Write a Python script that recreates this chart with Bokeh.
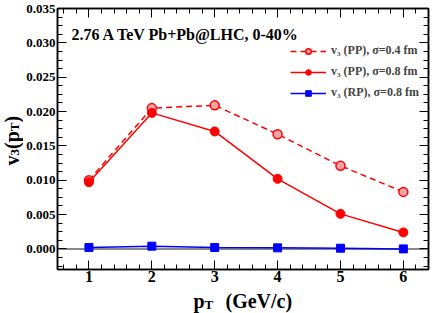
import math
from bokeh.plotting import figure
from bokeh.models import (Range1d, SingleIntervalTicker, LinearAxis, NumeralTickFormatter,
                          Span, Label, Legend, LegendItem)
from bokeh.layouts import column, row
from bokeh.embed import file_html
from bokeh.resources import INLINE

# ---- data ----
pt = [1, 2, 3, 4, 5, 6]
v3_pp_04 = [0.0100, 0.0205, 0.0209, 0.0167, 0.0121, 0.0083]
v3_pp_08 = [0.0097, 0.0198, 0.0171, 0.0102, 0.0051, 0.0024]
v3_rp_08 = [0.0002, 0.0004, 0.0002, 0.00015, 0.0001, 0.0000]
labels = ["v\u2083 (PP), \u03c3=0.4 fm", "v\u2083 (PP), \u03c3=0.8 fm", "v\u2083 (RP), \u03c3=0.8 fm"]
title_text = "2.76 A TeV Pb+Pb@LHC, 0-40%"

# ---- layout (page pixels; page origin at top-left) ----
PW, PH = 436, 313
YLAB_W = 23
XLAB_H = 24
FL, FR, FT, FB = 55, 428, 8, 269
X0, X1 = 0.5, 6.4
Y0, Y1 = -0.003, 0.035
FONT = "Liberation Serif"
BL = 7  # correction for alphabetic baseline placement in the label panels

MW, MH = PW - YLAB_W, PH - XLAB_H

def dx(px):
    return X0 + (px - FL) * (X1 - X0) / (FR - FL)

def dy(py):
    return Y1 - (py - FT) * (Y1 - Y0) / (FB - FT)

p = figure(width=MW, height=MH, output_backend="svg", toolbar_location=None,
           x_range=Range1d(X0, X1), y_range=Range1d(Y0, Y1),
           min_border_left=FL - YLAB_W, min_border_right=PW - FR,
           min_border_top=FT, min_border_bottom=MH - FB,
           x_axis_location=None, y_axis_location=None)
p.grid.visible = False
p.outline_line_color = "black"
p.outline_line_width = 1.5
p.background_fill_color = "white"
p.border_fill_color = "white"

xt = SingleIntervalTicker(interval=1, num_minor_ticks=5)
yt = SingleIntervalTicker(interval=0.005, num_minor_ticks=4)

def style_axis(ax, show_labels, size):
    ax.axis_line_color = "black"
    ax.axis_line_width = 1.5
    ax.major_tick_in = 9
    ax.major_tick_out = 0
    ax.minor_tick_in = 5
    ax.minor_tick_out = 0
    ax.major_tick_line_color = "black"
    ax.minor_tick_line_color = "black"
    ax.major_tick_line_width = 1
    ax.minor_tick_line_width = 1
    if show_labels:
        ax.major_label_text_font = FONT
        ax.major_label_text_font_style = "bold"
        ax.major_label_text_font_size = size
        ax.major_label_text_color = "black"
    else:
        ax.major_label_text_font_size = "0px"
        ax.major_label_text_color = None
        ax.major_label_standoff = 0

bx = LinearAxis(ticker=xt)
style_axis(bx, True, "16px")
bx.major_label_standoff = 1
p.add_layout(bx, "below")
ly = LinearAxis(ticker=yt, formatter=NumeralTickFormatter(format="0.000"))
style_axis(ly, True, "13px")
ly.major_label_standoff = 2
p.add_layout(ly, "left")
tx = LinearAxis(ticker=xt)
style_axis(tx, False, None)
p.add_layout(tx, "above")
ry = LinearAxis(ticker=yt)
style_axis(ry, False, None)
p.add_layout(ry, "right")

p.add_layout(Span(location=0, dimension="width", line_color="#888888", line_width=2, level="underlay"))

RED = "#ff0000"
BLUE = "#0000ff"
l1 = p.line(pt, v3_pp_04, line_color=RED, line_width=1.5, line_dash="6 4")
s1 = p.scatter(pt, v3_pp_04, marker="circle", size=9, fill_color="#f4a3a6", line_color=RED, line_width=1.5)
l2 = p.line(pt, v3_pp_08, line_color=RED, line_width=1.5)
s2 = p.scatter(pt, v3_pp_08, marker="circle", size=9, fill_color=RED, line_color=RED)
l3 = p.line(pt, v3_rp_08, line_color=BLUE, line_width=1.5)
s3 = p.scatter(pt, v3_rp_08, marker="square", size=8, fill_color=BLUE, line_color=BLUE)

legend = Legend(items=[LegendItem(label=labels[0], renderers=[l1, s1]),
                       LegendItem(label=labels[1], renderers=[l2, s2]),
                       LegendItem(label=labels[2], renderers=[l3, s3])],
                location=(288 - FL, FB - 100), padding=0, margin=0, spacing=6,
                glyph_width=36, glyph_height=14, label_height=14, label_standoff=5,
                label_text_font=FONT, label_text_font_style="bold", label_text_font_size="12px",
                border_line_color=None, background_fill_alpha=0)
p.add_layout(legend)

p.add_layout(Label(x=dx(69), y=dy(34), text=title_text, text_font=FONT, text_font_style="bold",
                   text_font_size="16px", text_color="black", text_baseline="alphabetic",
                   text_align="left"))

def label_fig(w, h, xr, yr):
    f = figure(width=w, height=h, output_backend="svg", toolbar_location=None,
               x_range=xr, y_range=yr, min_border=0,
               x_axis_location=None, y_axis_location=None)
    f.grid.visible = False
    f.outline_line_color = None
    f.background_fill_color = "white"
    f.border_fill_color = "white"
    return f

# y axis label v_3(p_T), rotated. Its frame is aligned with the main frame vertically.
ylab = label_fig(YLAB_W, MH, Range1d(0, YLAB_W), Range1d(Y0, Y1))
A = math.pi / 2
y_parts = [("v", 18, 165, "20px"), ("3", 21, 155, "13px"), ("(p", 18, 148.5, "20px"),
           ("T", 21, 130.7, "13px"), (")", 18, 122, "20px")]
for t, px, py, fs in y_parts:
    ylab.add_layout(Label(x=px - BL, y=dy(py), text=t, angle=A, text_font=FONT,
                          text_font_style="bold", text_font_size=fs, text_color="black",
                          text_baseline="alphabetic", text_align="left"))

# x axis label p_T (GeV/c)
xlab = label_fig(PW, XLAB_H, Range1d(0, PW), Range1d(0, XLAB_H))
x_parts = [("p", 193, 307, "20px"), ("T", 204, 311, "13px"), ("(GeV/c)", 225, 307, "20px")]
for t, px, py, fs in x_parts:
    xlab.add_layout(Label(x=px, y=PH - (py - BL), text=t, text_font=FONT,
                          text_font_style="bold", text_font_size=fs, text_color="black",
                          text_baseline="alphabetic", text_align="left"))

layout = column(row(ylab, p), xlab)
open("out.html", "w").write(file_html(layout, INLINE))
